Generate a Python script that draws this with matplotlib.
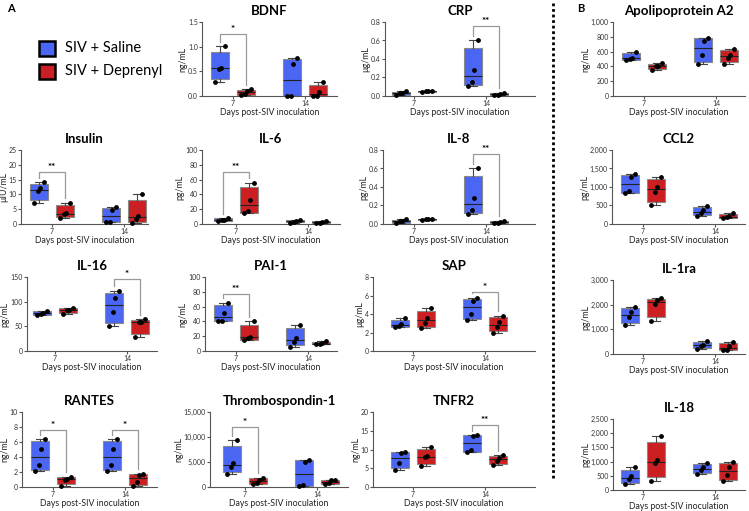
import numpy as np
import matplotlib
matplotlib.use('Agg')
import matplotlib.pyplot as plt
from matplotlib.lines import Line2D
from matplotlib.patches import Rectangle
from matplotlib.ticker import FuncFormatter, MultipleLocator

plt.rcParams['font.family'] = ['Lato', 'DejaVu Sans']

W, H = 749, 511
BLUE = '#4a66f2'
RED = '#cc1f22'

# values per panel: day7 saline, day7 deprenyl, day14 saline, day14 deprenyl
bdnf = [[0.28, 0.55, 0.57, 1.01], [0.02, 0.05, 0.10, 0.14], [0.0, 0.0, 0.65, 0.77], [0.0, 0.0, 0.08, 0.28]]
crp = [[0.01, 0.03, 0.035, 0.05], [0.04, 0.05, 0.05, 0.055], [0.103, 0.153, 0.28, 0.605], [0.01, 0.015, 0.02, 0.035]]
apoa2 = [[490, 500, 520, 600], [345, 400, 410, 440], [428, 550, 745, 790], [437, 518, 550, 640]]
insulin = [[7.2, 11.3, 12.0, 14.1], [2.1, 3.4, 3.6, 7.2], [0.6, 0.7, 4.7, 5.6], [0.5, 1.7, 2.8, 10.0]]
il6 = [[4, 5, 6, 8], [15, 17, 33, 56], [2, 3, 4, 5], [1, 2, 3, 4]]
il8 = [[0.01, 0.03, 0.035, 0.05], [0.04, 0.05, 0.05, 0.055], [0.103, 0.153, 0.28, 0.605], [0.01, 0.015, 0.02, 0.035]]
ccl2 = [[830, 900, 1260, 1340], [514, 856, 1009, 1279], [216, 288, 378, 495], [150, 180, 225, 285]]
il16 = [[72, 76, 78, 82], [75, 82.5, 84, 87.5], [50, 79, 108, 122], [27.5, 58, 59, 64]]
pai1 = [[40, 41, 51, 65], [15, 17, 19.5, 40], [6, 12, 17, 35], [9, 9.5, 10.5, 13.5]]
sap = [[2.6, 2.75, 2.95, 3.55], [2.5, 3.05, 3.55, 4.65], [3.3, 4.0, 5.45, 5.75], [2.0, 2.6, 3.1, 3.8]]
il1ra = [[1157, 1480, 1695, 1897], [1346, 2030, 2190, 2260], [200, 310, 380, 510], [150, 175, 310, 470]]
rantes = [[2.1, 3.0, 5.1, 6.4], [0.18, 0.95, 1.1, 1.35], [2.1, 3.0, 5.1, 6.4], [0.1, 0.65, 1.65, 1.75]]
tsp1 = [[2640, 4100, 4760, 9380], [600, 800, 1450, 1900], [130, 330, 4960, 5420], [600, 800, 1400, 1500]]
tnfr2 = [[4.6, 6.4, 9.2, 9.3], [5.5, 7.9, 8.3, 10.7], [9.3, 9.9, 13.7, 13.8], [6.0, 7.0, 7.8, 8.5]]
il18 = [[200, 380, 480, 800], [300, 940, 1040, 1900], [560, 700, 800, 940], [300, 520, 800, 1000]]

titles = ['BDNF', 'CRP', 'Apolipoprotein A2', 'Insulin', 'IL-6', 'IL-8', 'CCL2',
          'IL-16', 'PAI-1', 'SAP', 'IL-1ra', 'RANTES', 'Thrombospondin-1', 'TNFR2', 'IL-18']
datasets = [bdnf, crp, apoa2, insulin, il6, il8, ccl2, il16, pai1, sap, il1ra, rantes, tsp1, tnfr2, il18]
units = ['ng/mL', 'µg/mL', 'ng/mL', 'µIU/mL', 'pg/mL', 'pg/mL', 'pg/mL',
         'pg/mL', 'ng/mL', 'µg/mL', 'pg/mL', 'ng/mL', 'ng/mL', 'ng/mL', 'pg/mL']
ymax = [1.5, 0.8, 1000, 25, 100, 0.8, 2000, 150, 100, 8, 3000, 10, 15000, 20, 2500]
ystep = [0.5, 0.2, 200, 5, 20, 0.2, 500, 50, 20, 2, 1000, 2, 5000, 5, 500]
day_labels = ['7', '14']

# significance: (panel index, day group, bracket height, label)
sig = [(0, 0, 1.26, '*'), (1, 1, 0.755, '**'), (3, 0, 17.7, '**'), (4, 0, 70.7, '**'),
       (5, 1, 0.755, '**'), (7, 1, 146.6, '*'), (8, 0, 76.7, '**'), (9, 1, 6.4, '*'),
       (11, 0, 7.6, '*'), (11, 1, 7.6, '*'), (12, 0, 12000, '*'), (13, 1, 16.5, '**')]

# layout in pixels: left, top, right, bottom, x of day-7 centre
rects = [(202, 22, 337, 96, 233), (385, 22, 535, 96, 414), (613, 22, 745, 96, 644),
         (21, 150, 148, 224, 52), (202, 150, 340, 224, 236), (383, 150, 535, 224, 414),
         (612, 150, 745, 224, 643),
         (27, 277, 157, 351, 55), (205, 277, 337, 351, 236), (373, 277, 535, 351, 413),
         (613, 280, 745, 354, 643),
         (22, 412, 157, 487, 53), (210, 412, 348, 487, 245), (373, 412, 535, 487, 413),
         (613, 419, 745, 490, 643)]
SPACING = 72.0


def box_stats(v):
    v = np.sort(np.asarray(v, float))
    q1, med, q3 = np.percentile(v, [25, 50, 75], method='weibull')
    return dict(med=med, q1=q1, q3=q3, whislo=v.min(), whishi=v.max(), fliers=[])


def fmt_for(step):
    if step < 1:
        return FuncFormatter(lambda v, p: f'{v:.1f}')
    return FuncFormatter(lambda v, p: f'{v:,.0f}')


fig = plt.figure(figsize=(W / 100, H / 100), dpi=100)

positions = [-0.18, 0.18, 0.82, 1.18]
colors = [BLUE, RED, BLUE, RED]
offs = [-0.065, -0.02, 0.02, 0.065]
axes = []
for i, (title, data) in enumerate(zip(titles, datasets)):
    l, t, r, b, x7 = rects[i]
    ax = fig.add_axes([l / W, 1 - b / H, (r - l) / W, (b - t) / H])
    axes.append(ax)
    stats = [box_stats(d) for d in data]
    bp = ax.bxp(stats, positions=positions, widths=0.25, patch_artist=True,
                showfliers=False, capwidths=0.1,
                boxprops=dict(edgecolor='#8a8a8a', linewidth=0.8),
                medianprops=dict(color='#222222', linewidth=0.8),
                whiskerprops=dict(color='#444444', linewidth=0.8),
                capprops=dict(color='#444444', linewidth=0.8))
    for patch, c in zip(bp['boxes'], colors):
        patch.set_facecolor(c)
    for pos, d in zip(positions, data):
        ds = np.sort(d)
        ax.scatter(pos + np.array(offs), ds, s=6, color='black', zorder=5, clip_on=False)
    ax.set_xlim((l - x7) / SPACING, (r - x7) / SPACING)
    ax.set_ylim(0, ymax[i])
    ax.yaxis.set_major_locator(MultipleLocator(ystep[i]))
    ax.yaxis.set_major_formatter(fmt_for(ystep[i]))
    ax.set_xticks([0, 1])
    ax.set_xticklabels(day_labels)
    for s in ['top', 'right']:
        ax.spines[s].set_visible(False)
    for s in ['left', 'bottom']:
        ax.spines[s].set_color('#555555')
        ax.spines[s].set_linewidth(0.8)
    ax.tick_params(colors='#555555', length=2, width=0.8, labelsize=5, pad=1,
                   labelcolor='#333333')
    ax.set_title(title, fontsize=9.5, fontweight='bold', pad=5)
    ax.set_xlabel('Days post-SIV inoculation', fontsize=6.3, labelpad=0.5, color='#222222')
    ax.set_ylabel(units[i], fontsize=6.3, labelpad=0.5, color='#222222')

for pi, g, yb, lab in sig:
    ax = axes[pi]
    data = datasets[pi]
    xa, xb = positions[2 * g], positions[2 * g + 1]
    gap = ymax[pi] * 0.06
    ya = max(data[2 * g]) + gap
    yr = max(data[2 * g + 1]) + gap
    ax.plot([xa, xa, xb, xb], [min(ya, yb), yb, yb, min(yr, yb)], color='#999999',
            lw=0.9, clip_on=False)
    ax.text((xa + xb) / 2, yb, lab, ha='center', va='bottom', fontsize=7,
            fontweight='bold', clip_on=False)

# legend
for (y0, c, lab) in [(41, BLUE, 'SIV + Saline'), (64, RED, 'SIV + Deprenyl')]:
    fig.add_artist(Rectangle((39 / W, 1 - (y0 + 15) / H), 16 / W, 15 / H,
                             facecolor=c, edgecolor='black', lw=1.8,
                             transform=fig.transFigure))
    fig.text(65 / W, 1 - (y0 + 7.5) / H, lab, fontsize=10.5, va='center', ha='left')

fig.text(7 / W, 1 - 8 / H, 'A', fontsize=8, fontweight='bold', va='center')
fig.text(577 / W, 1 - 8 / H, 'B', fontsize=8, fontweight='bold', va='center')

fig.add_artist(Line2D([553 / W, 553 / W], [1 - 3 / H, 1 - 480 / H], color='black',
                      lw=2, linestyle=(0, (1, 1)), transform=fig.transFigure))

fig.savefig('out.png', dpi=100)
